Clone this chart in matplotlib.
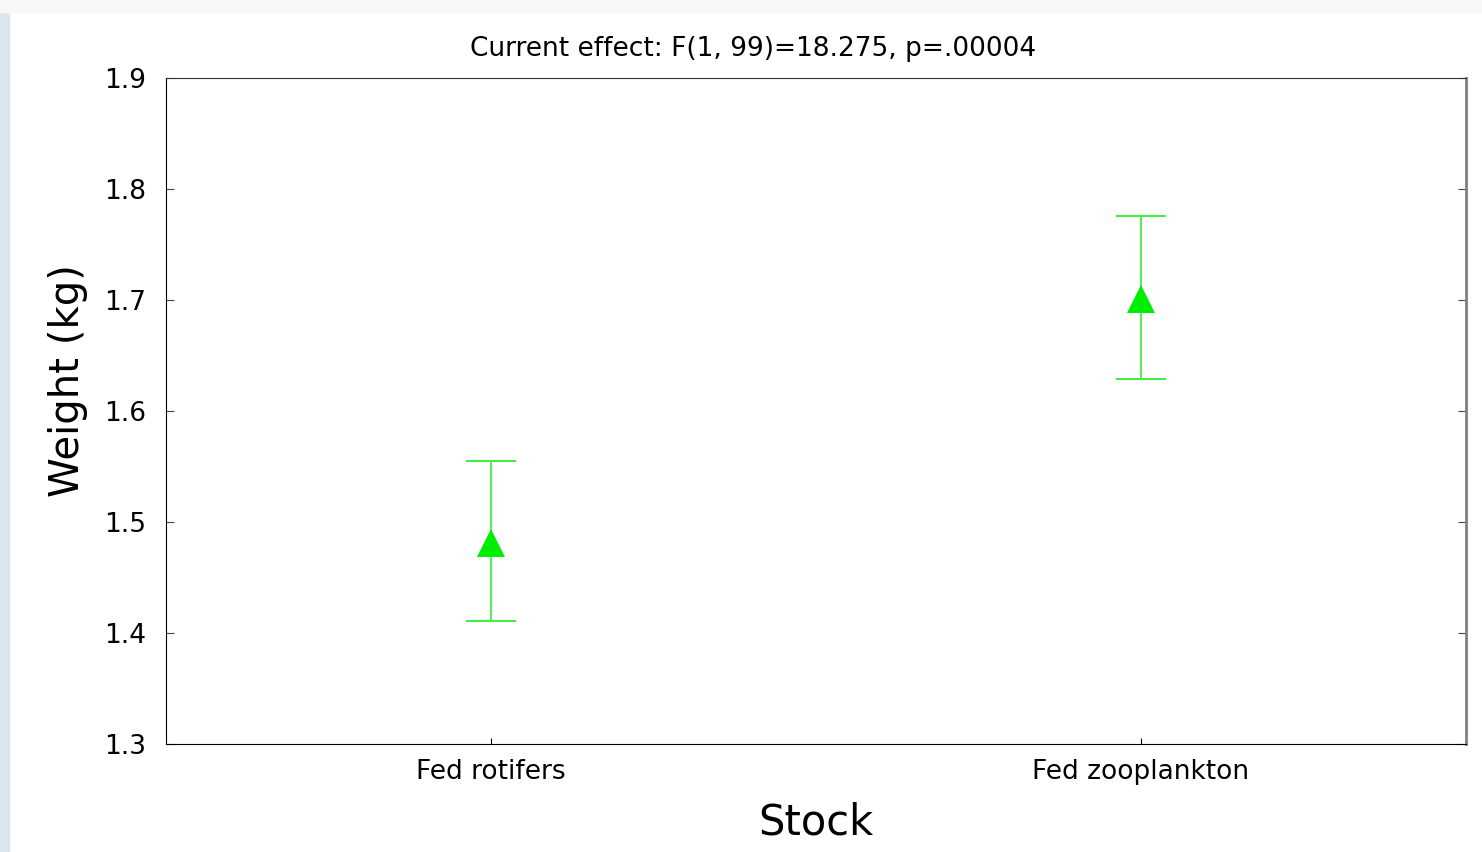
import matplotlib.pyplot as plt
from matplotlib.patches import Rectangle

groups = ['Fed rotifers', 'Fed zooplankton']
means = [1.481, 1.701]
lower = [1.411, 1.629]
upper = [1.555, 1.776]

plt.rcParams['font.family'] = ['DejaVu Sans']

fig = plt.figure(figsize=(14.82, 8.52), dpi=100)
fig.patch.set_facecolor('white')
# slide background bits at the edges
fig.patches.append(Rectangle((0, 0), 0.006, 1, transform=fig.transFigure,
                             color='#dae6f0', zorder=0))
fig.patches.append(Rectangle((0, 0.986), 1, 0.014, transform=fig.transFigure,
                             color='#f7f7f7', zorder=0))

ax = fig.add_axes([0.112, 0.1268, 0.877, 0.7817])

x = list(range(len(groups)))
yerr = [[m - lo for m, lo in zip(means, lower)], [hi - m for m, hi in zip(means, upper)]]
ax.errorbar(x, means, yerr=yerr, fmt='none', ecolor='#44ee44', elinewidth=1.3,
            capsize=18, capthick=1.5)
ax.plot(x, means, '^', color='#00ee00', markersize=20, markeredgewidth=0)

ax.set_xlim(-0.5, 1.5)
ax.set_ylim(1.3, 1.9)
ax.set_yticks([1.3, 1.4, 1.5, 1.6, 1.7, 1.8, 1.9])
ax.set_yticklabels(['1.3', '1.4', '1.5', '1.6', '1.7', '1.8', '1.9'])
ax.set_xticks(x)
ax.set_xticklabels(groups)

ax.tick_params(axis='y', direction='in', length=6, labelsize=19, pad=14, right=True,
               color='#444444')
ax.tick_params(axis='x', direction='in', length=4, labelsize=19, pad=11)

ax.spines['right'].set_color('#808080')
ax.spines['right'].set_linewidth(2)
ax.spines['top'].set_color('#333333')

ax.set_title('Current effect: F(1, 99)=18.275, p=.00004', fontsize=19, pad=16, x=0.4515)
ax.set_ylabel('Weight (kg)', fontsize=29)
ax.yaxis.set_label_coords(-0.060, 0.545)
ax.set_xlabel('Stock', fontsize=30, labelpad=12)

plt.savefig('out.png', dpi=100)
